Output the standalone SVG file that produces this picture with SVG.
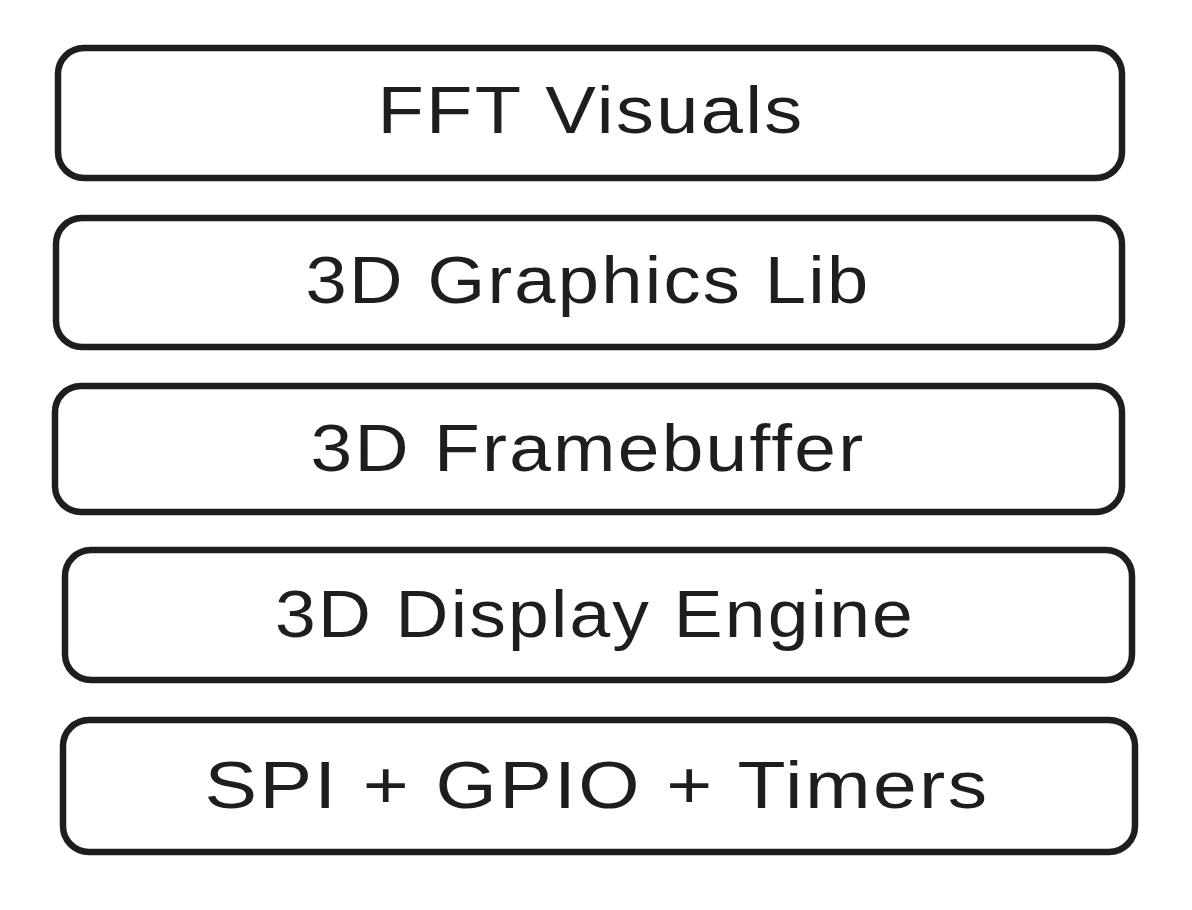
<svg xmlns="http://www.w3.org/2000/svg" width="1192" height="910" viewBox="0 0 1192 910">
<style>
.box{fill:#ffffff;stroke:#1e1e1e;stroke-width:6.5;stroke-linejoin:round}
.lbl{font-family:"Liberation Sans",Arial,sans-serif;font-size:66px;fill:#1e1e1e;text-anchor:middle;dominant-baseline:central;letter-spacing:2px}
</style>
<rect width="1192" height="910" fill="#ffffff"/>
<g id="connectors"></g>
<g id="fft-visuals">
<rect class="box" x="58" y="48" width="1064" height="130" rx="26"/>
<text class="lbl" x="591" y="110" textLength="427" lengthAdjust="spacingAndGlyphs">FFT Visuals</text>
</g>
<g id="graphics-lib">
<rect class="box" x="56" y="218" width="1066" height="129" rx="26"/>
<text class="lbl" x="588" y="280" textLength="565" lengthAdjust="spacingAndGlyphs">3D Graphics Lib</text>
</g>
<g id="framebuffer">
<rect class="box" x="55" y="386" width="1067" height="126" rx="26"/>
<text class="lbl" x="588" y="448" textLength="555" lengthAdjust="spacingAndGlyphs">3D Framebuffer</text>
</g>
<g id="display-engine">
<rect class="box" x="65" y="550" width="1067" height="130" rx="26"/>
<text class="lbl" x="595" y="614" textLength="640" lengthAdjust="spacingAndGlyphs">3D Display Engine</text>
</g>
<g id="spi-gpio-timers">
<rect class="box" x="63" y="720" width="1072" height="132" rx="26"/>
<text class="lbl" x="597" y="785" textLength="785" lengthAdjust="spacingAndGlyphs">SPI + GPIO + Timers</text>
</g>
</svg>
